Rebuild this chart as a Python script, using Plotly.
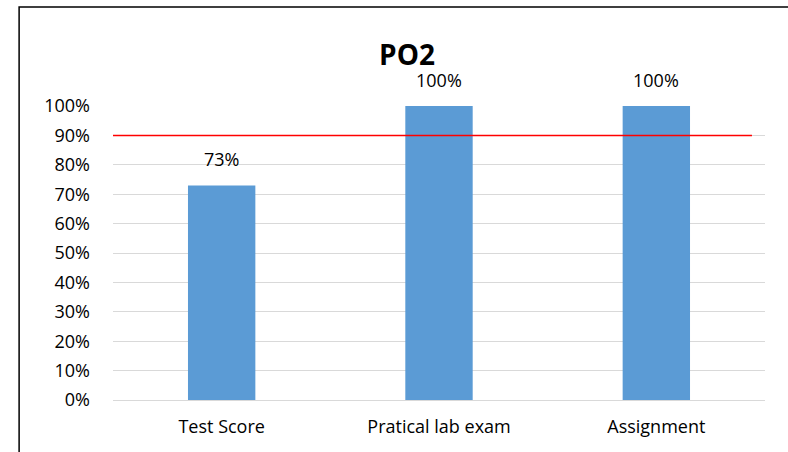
import plotly.graph_objects as go

categories = ['Test Score', 'Pratical lab exam', 'Assignment']
scores = [0.73, 1.00, 1.00]
target = 0.90
y_ticks = [0, 0.1, 0.2, 0.3, 0.4, 0.5, 0.6, 0.7, 0.8, 0.9, 1.0]

fig = go.Figure()

fig.add_trace(go.Bar(
    x=categories, y=scores,
    marker=dict(color='#5B9BD5', line=dict(width=0)),
    name='PO2'
))

# etichette dati sopra le barre
for c, v in zip(categories, scores):
    fig.add_annotation(x=c, y=v, xref='x', yref='y', text=f'{v:.0%}',
                       showarrow=False, yanchor='bottom', yshift=12,
                       font=dict(size=18, color='#000000'))

# linea obiettivo 90%
fig.add_shape(type='line', xref='x domain', yref='y',
              x0=0, x1=0.98, y0=target, y1=target,
              line=dict(color='#FF0000', width=1.5))

# cornice del grafico
fig.add_shape(type='rect', xref='paper', yref='paper',
              x0=-0.144, x1=1.2, y0=-0.4, y1=1.337,
              line=dict(color='#000000', width=1.5), layer='above')

fig.update_layout(
    title=dict(text='<b>PO2</b>', x=407 / 788, xref='container', xanchor='center',
               y=1 - 55 / 452, yref='container', yanchor='middle',
               font=dict(size=28, color='#000000')),
    width=788, height=452,
    margin=dict(l=113, r=23, t=106, b=52),
    paper_bgcolor='white', plot_bgcolor='white',
    font=dict(family='Open Sans, Liberation Sans, sans-serif', color='#000000'),
    bargap=0.69,
    showlegend=False,
)
fig.update_yaxes(range=[0, 1], tickvals=y_ticks, tickformat='.0%',
                 showgrid=True, gridcolor='#D9D9D9', gridwidth=1,
                 zeroline=False, showline=False, ticks='',
                 tickfont=dict(size=18), ticklabelstandoff=22)
fig.update_xaxes(showgrid=False, showline=True, linecolor='#D9D9D9', linewidth=1,
                 ticks='', tickfont=dict(size=18), ticklabelstandoff=10)

fig.write_html('out.html', config={'displayModeBar': False},
               post_script="document.body.style.margin='0';document.body.style.overflow='hidden';")
